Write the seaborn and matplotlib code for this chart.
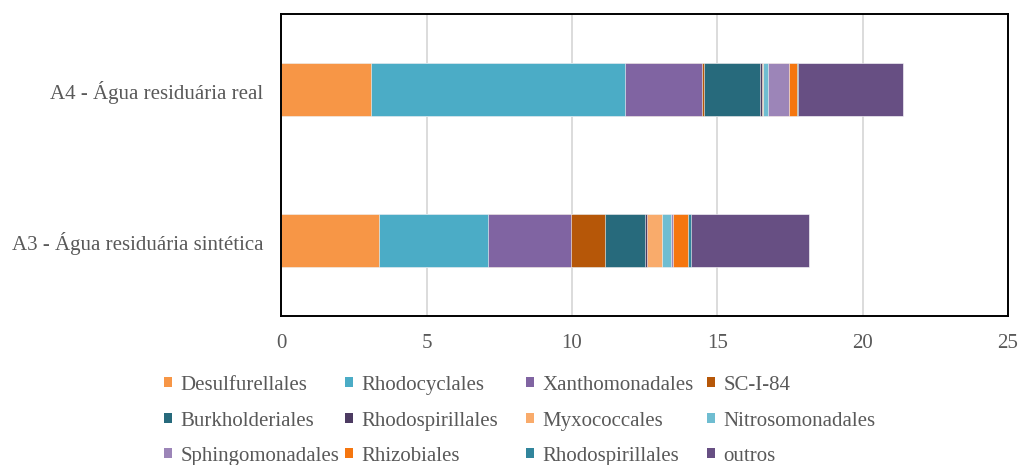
import matplotlib
matplotlib.use("Agg")
import matplotlib.pyplot as plt
from matplotlib.patches import Patch
import numpy as np
import pandas as pd
import seaborn as sns

# Relative abundance (%) of bacterial orders per sample
samples = ["A4 - Água residuária real", "A3 - Água residuária sintética"]
orders = ["Desulfurellales", "Rhodocyclales", "Xanthomonadales", "SC-I-84",
          "Burkholderiales", "Rhodospirillales", "Myxococcales", "Nitrosomonadales",
          "Sphingomonadales", "Rhizobiales", "Rhodospirillales", "outros"]
a4_values = [3.09, 8.72, 2.67, 0.07, 1.93, 0.04, 0.06, 0.16, 0.71, 0.30, 0.04, 3.59]
a3_values = [3.35, 3.75, 2.88, 1.17, 1.36, 0.08, 0.50, 0.32, 0.05, 0.53, 0.10, 4.06]
colors = ["#F79646", "#4BACC6", "#8064A2", "#B65708",
          "#276A7C", "#4D3B62", "#F9AB6B", "#6FBDD1",
          "#9C85B8", "#F5760F", "#31859C", "#674F83"]
x_ticks = [0, 5, 10, 15, 20, 25]

sns.set_theme(style="white")
plt.rcParams["font.family"] = ["Liberation Serif", "DejaVu Serif"]
text_color = "#595959"

fig = plt.figure(figsize=(10.19, 4.65), dpi=100)
ax = fig.add_axes([281.3 / 1019, 1 - 316 / 465, (1008 - 281.3) / 1019, (316 - 14) / 465])

# Stacked bars: draw cumulative totals from the outermost segment inwards
vals = np.array([a4_values, a3_values])
cum = np.cumsum(vals, axis=1)
for k in range(len(orders) - 1, -1, -1):
    df = pd.DataFrame({"amostra": samples, "total": cum[:, k]})
    sns.barplot(data=df, x="total", y="amostra", order=samples, orient="h",
                color=colors[k], saturation=1, width=0.35,
                edgecolor="white", linewidth=0.4, ax=ax)

ax.set_xlim(0, 25)
ax.set_ylim(1.5, -0.5)
ax.set_xticks(x_ticks)
ax.set_xticklabels([str(t) for t in x_ticks])
ax.set_xlabel("")
ax.set_ylabel("")
ax.grid(axis="x", color="#D9D9D9", linewidth=1.3)
ax.grid(axis="y", visible=False)
ax.set_axisbelow(True)
for s in ax.spines.values():
    s.set_visible(True)
    s.set_color("black")
    s.set_linewidth(1.4)
ax.tick_params(axis="x", length=0, pad=13, labelsize=15, labelcolor=text_color)
ax.tick_params(axis="y", length=0, pad=13, labelsize=15, labelcolor=text_color)

# Legend laid out on a regular 4-column grid below the plot
col_x = [164, 345, 526, 707]
row_y = [385, 421, 456]
for i, (name, c) in enumerate(zip(orders, colors)):
    r, cidx = divmod(i, 4)
    leg = fig.legend(handles=[Patch(facecolor=c, edgecolor="none")], labels=[name],
                     loc="center left",
                     bbox_to_anchor=(col_x[cidx] / 1019, 1 - row_y[r] / 465),
                     bbox_transform=fig.transFigure, frameon=False,
                     borderpad=0, borderaxespad=0, fontsize=15,
                     handlelength=0.4, handleheight=0.4, handletextpad=0.4)
    for t in leg.get_texts():
        t.set_color(text_color)

fig.savefig("out.png", dpi=100)
